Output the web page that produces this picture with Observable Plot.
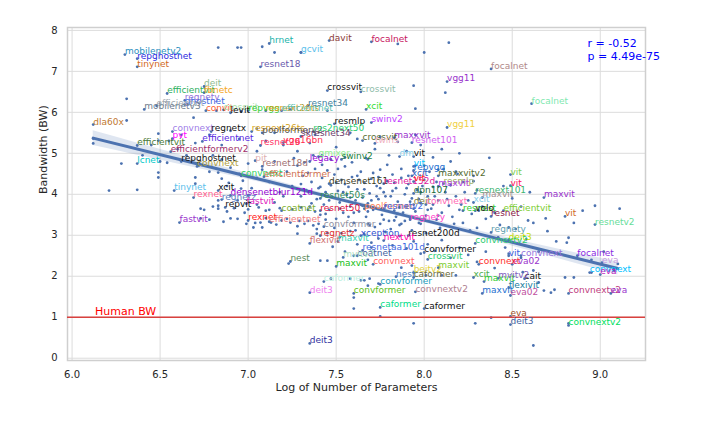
<!DOCTYPE html>
<html>
<head>
<meta charset="utf-8">
<script src="https://cdn.jsdelivr.net/npm/d3@7"></script>
<script src="https://cdn.jsdelivr.net/npm/@observablehq/plot@0.6"></script>
<style>
  html, body { margin: 0; padding: 0; background: #fff; }
  #chart { width: 701px; height: 421px; }
</style>
</head>
<body>
<div id="chart"></div>
<script>
// ---------- tick labels ----------
const xTicks = [6.0, 6.5, 7.0, 7.5, 8.0, 8.5, 9.0];
const yTicks = [0, 1, 2, 3, 4, 5, 6, 7, 8];

// ---------- labelled models (log params, bandwidth) ----------
const labelNames = [
  "mobilenetv2","repghostnet","tinynet","hrnet","gcvit","davit","resnet18","focalnet","focalnet","vgg11",
  "crossvit","crossvit","deit","efficientvit","fbnetc","regnety","ghostnet","efficientvit","mobilenetv3","convit",
  "crossvit","levit","repvgg","resnext26ts","efficientnet","resnet34","xcit","focalnet","dla60x","resmlp",
  "swinv2","vgg11","convnext","regnetx","resnext26ts","poolformerv2","res2next50","skresnet34","maxxvit","crossvit",
  "twins","resnet101","pvt","efficientvit","efficientnet","resnet26","vgg16bn","efficientformerv2","lcnet","repghostnet",
  "convnext","pit","resnet18d","legacy","gmixer","swinv2","dm","vit","convnext","efficientformer",
  "tinynet","xcit","densenetblur121d","densenet161","resnet50s","vit","repvgg","xcit","maxxvitv2","resmlp",
  "maxvit","resnet152d","vit","vit","vit","dpn107","resnext101","maxvit","maxvit","deit",
  "convnext","xcit","resnest","volo","efficientvit","resnet","vit","resnetv2","regnety","regnety",
  "deit3","convnextv2","vit","convnext","focalnet","eva","convnext","eva","eva02","convnext",
  "crossvit","convformer","resnetaa101d","coatnet","convnext","maxvit","xcit","maxvit","cait","flexivit",
  "maxvit","eva02","convnextv2","eva","convnextv2","caformer","caformer","convformer","caformer","beitv2",
  "nest","convformer","eva","deit3","convnextv2","rexnet","regnetz","fastvit","repvit","coatnet",
  "resnet50","fastvit","rexnet","efficientnet","convformer","flexivit","maxvit","regnetz","xception","resnet200d",
  "nextvit","nest","maxvit","mvitv2","caformer","deit3","deit3","poolformer","resnetv2","mvitv2"
];
const labelX = [
  6.30,6.37,6.37,7.12,7.30,7.46,7.07,7.70,8.38,8.13,
  7.45,7.64,6.75,6.54,6.75,6.64,6.64,6.48,6.41,6.76,
  6.86,6.90,7.00,7.10,7.19,7.34,7.67,8.61,6.12,7.49,
  7.70,8.13,6.57,6.79,7.02,7.08,7.37,7.30,7.83,7.65,
  7.72,7.93,6.57,6.37,6.74,7.07,7.20,6.56,6.37,6.62,
  6.71,7.04,7.08,7.35,7.40,7.53,7.86,7.94,6.96,7.09,
  6.58,6.83,6.90,7.46,7.41,7.94,7.94,7.93,8.08,8.11,
  8.08,7.77,7.94,8.49,8.49,7.94,8.29,8.33,8.68,7.94,
  8.01,8.28,8.22,8.29,8.45,8.38,8.80,8.97,7.92,8.38,
  8.48,8.29,8.48,8.55,8.87,9.01,8.94,9.00,8.50,8.31,
  8.02,8.00,7.65,7.62,7.71,8.08,8.28,8.34,8.57,8.48,
  8.33,8.49,8.82,9.06,7.95,7.75,8.00,7.75,7.94,7.94,
  7.84,7.60,8.49,8.49,8.82,6.69,6.85,6.99,6.87,7.19,
  7.41,6.61,7.00,7.12,7.43,7.35,7.51,7.41,7.64,7.91,
  7.77,7.24,7.50,7.54,7.43,7.35,7.35,7.66,7.77,8.42
];
const labelY = [
  7.41,7.31,7.11,7.68,7.46,7.75,7.11,7.72,7.06,6.75,
  6.53,6.50,6.63,6.46,6.48,6.29,6.19,6.16,6.07,6.04,
  6.06,5.99,6.04,6.04,6.04,6.16,6.07,6.21,5.70,5.72,
  5.75,5.63,5.53,5.53,5.53,5.50,5.53,5.41,5.38,5.31,
  5.24,5.26,5.36,5.19,5.29,5.19,5.26,5.04,4.75,4.80,
  4.68,4.82,4.68,4.80,4.92,4.85,4.92,4.92,4.45,4.43,
  4.09,4.09,3.97,4.26,3.90,4.68,4.58,4.45,4.45,4.26,
  4.19,4.26,4.31,4.48,4.21,4.02,4.02,3.92,3.92,3.75,
  3.75,3.80,3.60,3.60,3.60,3.46,3.46,3.26,3.38,3.07,
  2.89,2.80,2.50,2.50,2.50,2.33,2.09,2.04,2.29,2.29,
  2.41,2.58,2.63,2.50,2.29,2.21,1.97,1.87,1.94,1.72,
  1.58,1.53,1.58,1.58,1.62,1.24,1.21,1.80,1.97,2.09,
  1.99,1.58,1.02,0.82,0.80,3.92,3.87,3.77,3.68,3.60,
  3.60,3.31,3.36,3.33,3.21,2.80,2.85,2.99,2.99,2.99,
  2.87,2.36,2.24,2.46,1.87,1.60,0.36,3.65,3.65,1.95
];
const labelColors = [
  "#2a8fc0","#2a2ae0","#d2691e","#20b2aa","#5bc0eb","#8b3a3a","#6a5aad","#c71560","#b08888","#9932cc",
  "#111111","#8fbcaa","#8fbc8f","#2eb060","#f5a623","#9370db","#4169e1","#a0a8b0","#708090","#ff6030",
  "#a8e0a8","#111111","#32cd32","#e0a020","#60c0b0","#3f7fa0","#32dd32","#7fe8b0","#c07830","#111111",
  "#c040ff","#f0d040","#a080e8","#111111","#d4a017","#555555","#2ecc71","#6a3a6a","#9932cc","#556b2f",
  "#f0b0c0","#d060f0","#ff00ff","#4a7a3a","#5a2be2","#ff3366","#ff3050","#a0306a","#00c8c8","#111111",
  "#b0a040","#e0b0b0","#a07070","#9400d3","#90ee90","#208040","#87ceeb","#111111","#30d060","#d07050",
  "#5bc0eb","#111111","#9400d3","#3a3a1a","#2e8b57","#00bfff","#1e6fd0","#3060c0","#556b2f","#a0b060",
  "#b040e0","#e020a0","#ff2020","#7ccd50","#ff1060","#1a6b3a","#3cb371","#a09090","#9932cc","#808040",
  "#ff69b4","#87ceeb","#32cd32","#111111","#7ccd32","#8b1a4a","#d2691e","#66dd99","#ff44cc","#5fa0b0",
  "#c8e000","#2ecc71","#4060e0","#9370db","#8a2be2","#c8a0e0","#00bfff","#c020c0","#9932cc","#ff3030",
  "#2ecc71","#111111","#4169e1","#4060a0","#ff6060","#7ccd32","#4caf50","#32cd32","#111111","#2080a0",
  "#1e6fd0","#c050a0","#c04080","#9932cc","#b08090","#00dd88","#111111","#20a0c0","#6b6b3a","#e0d040",
  "#5080c0","#60c020","#a0522d","#4060a0","#00e060","#ff6090","#6080c0","#e020c0","#111111","#80b030",
  "#e01040","#9932cc","#ff2020","#f08080","#9090a0","#d07070","#40d0b0","#e03030","#3050d0","#111111",
  "#ff00aa","#5a8a5a","#20c020","#b0e0c0","#c0f0e0","#ee82ee","#3030a0","#ff7f50","#4169e1","#8060c0"
];

// ---------- unlabelled models ----------
const dotX = [
  6.83,6.94,6.96,7.08,7.15,7.30,7.85,8.00,8.14,6.31,7.94,8.12,7.95,6.69,6.31,6.82,6.96,7.24,7.45,6.12,
  6.12,6.49,6.49,6.28,6.37,6.21,6.49,6.49,6.54,6.70,6.70,6.83,6.85,6.89,6.97,6.96,7.00,6.83,6.94,6.73,
  6.73,6.90,6.99,7.07,6.83,6.83,7.03,7.08,7.13,7.19,7.24,7.32,7.37,7.39,7.28,7.41,7.45,7.23,7.60,7.60,
  7.69,7.64,7.47,7.58,7.68,7.75,7.83,7.87,7.98,7.70,7.87,7.93,8.01,8.10,8.18,7.68,7.66,7.74,7.94,8.29,
  7.75,8.38,8.62,8.68,8.74,8.85,8.80,8.95,9.08,9.11,8.97,8.82,8.81,8.59,8.69,8.48,8.48,8.55,8.62,8.82,
  8.37,
  7.22,7.25,7.28,7.30,7.31,7.33,7.35,7.36,7.38,7.39,7.40,7.41,7.42,7.43,7.44,7.45,7.46,7.47,7.48,7.49,
  7.50,7.51,7.52,7.53,7.54,7.55,7.56,7.57,7.58,7.59,7.60,7.61,7.62,7.63,7.64,7.65,7.66,7.67,7.68,7.69,
  7.70,7.71,7.72,7.73,7.74,7.75,7.76,7.77,7.78,7.79,7.80,7.81,7.82,7.83,7.84,7.85,7.86,7.87,7.88,7.89,
  7.90,7.91,7.92,7.93,7.95,7.96,7.97,7.98,8.00,8.01,8.02,8.04,8.05,8.07,8.08,8.10,8.12,8.14,8.16,8.18,
  8.20,8.22,8.25,8.27,8.30,8.33,8.35,8.40,8.43,
  7.45,7.52,7.58,7.62,7.66,7.70,7.74,7.78,7.82,7.86,7.90,7.94,7.98,8.02,8.06,8.10,8.15,8.20,8.25,8.30,
  8.35,7.55,7.48,7.60,7.68,
  7.20,7.28,7.35,7.42,7.50,7.55,7.62,7.68,7.72,7.80,7.85,7.90,7.98,8.05,8.10,8.15,8.20,7.38,7.58,7.75,
  7.95,8.00,8.08,8.18,8.22,8.28,8.30,
  6.72,6.78,6.85,6.90,6.95,7.00,7.05,7.08,7.12,7.15,7.18,7.02,6.88,6.80,6.65,6.60,6.70,6.85,6.95,7.05,
  7.10,7.15,7.05,6.90,6.78,6.62,6.55,6.45,6.40,6.50,7.15,7.10,7.20,7.05,6.98,
  8.45,8.50,8.55,8.60,8.62,8.70,8.75,8.65,8.58,8.52,8.90,8.85,8.95,9.02,9.10,8.42,8.46,8.40,8.56,8.65,
  8.72,
  7.26,7.29,7.32,7.34,7.37,7.39,7.42,7.44,7.47,7.49,7.51,7.53,7.55,7.57,7.59,7.61,7.63,7.65,7.67,7.69,
  7.71,7.73,7.75,7.77,7.79,7.81,7.83,7.85,7.87,7.89,7.91,7.93,7.95,7.97,7.99,8.01,8.03,8.05,8.07,8.09,
  8.11,8.13,8.15,8.17,8.19,8.21,8.23,8.26,8.28,8.31,
  7.30,7.34,7.38,7.41,7.46,7.50,7.54,7.58,7.62,7.66,7.70,7.74,7.78,7.82,7.86,7.90,7.94,7.98,8.02,8.06,
  7.36,7.44,7.52,7.60,7.68,7.76,7.84,7.92,8.00,8.08,
  6.75,6.80,6.88,6.92,7.00,7.06,7.12,7.18,7.25,7.30,6.78,6.86,6.94,7.04,7.10,7.16,7.22,7.28,7.34,7.40
];
const dotY = [
  7.58,7.58,7.58,7.60,7.46,7.46,7.67,7.46,7.70,6.33,6.65,6.48,6.09,5.87,5.80,6.04,6.02,6.07,6.04,5.36,
  5.24,5.48,5.31,4.75,4.11,4.09,4.53,4.41,4.77,4.41,4.26,4.53,4.38,4.28,4.33,4.14,3.97,3.65,3.85,3.65,
  3.41,3.41,3.28,3.31,3.85,3.72,3.19,3.19,3.31,3.36,3.31,3.28,3.24,3.04,3.04,2.38,2.38,2.31,1.21,1.48,
  1.94,1.90,1.94,1.94,3.28,3.28,3.36,3.28,3.28,2.82,2.21,2.26,2.02,2.02,2.02,1.77,1.90,1.82,0.85,0.85,
  1.02,0.99,0.31,1.65,1.67,1.97,1.97,2.09,2.14,3.65,3.72,2.94,2.82,3.36,3.41,3.19,2.55,2.45,2.14,0.85,
  4.89,
  4.55,4.20,4.70,3.95,4.45,4.10,3.70,4.30,4.62,3.88,4.15,3.50,4.40,3.75,4.05,4.58,3.62,4.22,3.92,4.48,
  3.40,4.08,3.80,4.35,3.55,4.68,3.98,4.18,3.70,4.42,3.30,3.85,4.12,3.58,4.55,3.92,4.28,3.45,3.78,4.02,
  4.38,3.62,3.20,4.20,3.88,4.60,3.50,4.05,3.72,4.32,3.35,3.95,4.48,3.60,4.15,3.82,3.25,4.40,3.55,4.00,
  3.70,4.25,3.42,3.90,3.58,4.10,3.30,3.78,4.35,3.48,3.95,3.65,4.18,3.38,3.85,3.55,4.05,3.72,3.45,3.95,
  3.62,3.30,3.85,3.52,3.18,3.70,3.40,3.55,3.25,
  3.05,2.95,3.10,2.78,3.02,2.70,2.92,3.08,2.75,2.98,2.68,2.85,2.55,2.78,2.62,2.88,2.45,2.70,2.52,2.35,
  2.60,2.60,2.72,2.50,2.40,
  5.20,5.05,5.25,4.95,5.15,4.90,5.35,4.85,5.10,4.95,5.28,5.05,5.20,4.90,5.10,4.80,5.00,5.45,5.50,5.40,
  5.45,4.70,4.60,4.55,4.30,4.45,4.10,
  4.70,4.55,4.85,4.65,4.50,4.75,4.40,4.60,4.30,4.80,4.05,4.15,4.20,4.95,4.95,5.10,5.25,5.20,5.35,5.05,
  5.30,5.50,5.60,5.55,5.45,5.45,5.30,5.20,4.95,4.80,3.80,3.60,3.95,3.75,3.55,
  4.20,3.90,3.70,4.05,3.30,3.10,2.85,2.60,2.90,3.15,3.60,3.30,2.40,2.60,2.30,2.95,2.70,2.20,2.10,1.85,
  1.60,
  4.88,3.35,4.78,3.62,4.95,3.15,4.72,3.38,4.85,3.18,4.62,3.05,4.25,3.45,4.78,3.12,4.35,3.72,4.88,3.25,
  4.52,3.95,4.15,3.38,4.72,3.15,4.28,3.52,4.62,3.35,4.45,3.12,4.70,3.88,4.20,3.05,4.55,3.75,4.30,3.18,
  4.62,3.88,4.22,3.28,4.50,3.75,4.05,3.12,4.32,3.60,
  4.25,4.52,3.58,4.18,3.85,4.28,4.05,3.92,4.45,4.12,3.85,4.42,3.95,4.08,3.68,4.15,3.65,4.05,3.62,3.95,
  3.78,3.52,3.65,3.55,3.58,3.65,3.45,3.82,3.40,3.48,
  3.62,3.70,3.58,3.66,3.63,3.68,3.62,3.66,3.63,3.68,3.38,3.33,3.40,3.30,3.42,3.26,3.40,3.22,3.35,3.28
];

// ---------- regression fit ----------
const fitX  = [6.12, 6.60, 7.10, 7.60, 8.10, 8.60, 9.10];
const fitY  = [5.37, 4.86, 4.33, 3.79, 3.26, 2.72, 2.19];
const fitLo = [5.19, 4.74, 4.26, 3.74, 3.20, 2.62, 2.03];
const fitHi = [5.55, 4.98, 4.40, 3.84, 3.32, 2.82, 2.35];

const humanBW = 1.0;
const humanLabelX = 6.13;
const statR = "r = -0.52";
const statP = "p = 4.49e-75";

// ---------- build tables ----------
const labels = labelNames.map((n, i) => ({name: n, x: labelX[i], y: labelY[i], c: labelColors[i]}));
const dots = dotX.map((x, i) => ({x, y: dotY[i]})).concat(labels.map(d => ({x: d.x, y: d.y})));
const fit = fitX.map((x, i) => ({x, y: fitY[i], lo: fitLo[i], hi: fitHi[i]}));

const blue = "#4c72b0";

const chart = Plot.plot({
  width: 701,
  height: 421,
  marginLeft: 67,
  marginRight: 56,
  marginTop: 27,
  marginBottom: 61,
  style: {fontFamily: "DejaVu Sans", fontSize: "10px", color: "#262626", background: "#fff"},
  x: {domain: [5.974, 9.257]},
  y: {domain: [-0.056, 8.07]},
  marks: [
    Plot.gridX(xTicks, {stroke: "#dcdcdc", strokeOpacity: 1, strokeWidth: 1}),
    Plot.gridY(yTicks, {stroke: "#dcdcdc", strokeOpacity: 1, strokeWidth: 1}),
    Plot.frame({stroke: "#cfcfcf", strokeWidth: 1.5}),
    Plot.axisX({ticks: xTicks, tickFormat: d3.format(".1f"), tickSize: 0, tickPadding: 10, label: null, fontSize: 10}),
    Plot.axisY({ticks: yTicks, tickFormat: d3.format("d"), tickSize: 0, tickPadding: 10, label: null, fontSize: 10}),
    Plot.areaY(fit, {x: "x", y1: "lo", y2: "hi", fill: blue, fillOpacity: 0.18, curve: "natural"}),
    Plot.dot(dots, {x: "x", y: "y", r: 1.4, fill: blue, stroke: "none"}),
    Plot.line(fit, {x: "x", y: "y", stroke: blue, strokeWidth: 3}),
    Plot.ruleY([humanBW], {stroke: "#d9413e", strokeWidth: 1.5}),
    Plot.text([humanBW], {x: () => humanLabelX, y: d => d, text: () => "Human BW", fill: "red",
      fontSize: 11, textAnchor: "start", lineAnchor: "bottom", dy: -2}),
    Plot.text(labels, {x: "x", y: "y", text: "name", fill: "c", fontSize: 9,
      textAnchor: "start", lineAnchor: "middle", dy: -3}),
    Plot.text([statR], {frameAnchor: "top-left", text: d => d, dx: 520, dy: 16,
      fill: "#0000ff", fontSize: 11, textAnchor: "start", lineAnchor: "middle"}),
    Plot.text([statP], {frameAnchor: "top-left", text: d => d, dx: 520, dy: 29,
      fill: "#0000ff", fontSize: 11, textAnchor: "start", lineAnchor: "middle"}),
    Plot.text(["Log of Number of Parameters"], {frameAnchor: "bottom", text: d => d, dy: 27, fontSize: 11, fill: "#262626", lineAnchor: "middle"}),
    Plot.text(["Bandwidth (BW)"], {frameAnchor: "left", text: d => d, dx: -24, rotate: -90, fontSize: 11, fill: "#262626", lineAnchor: "middle"})
  ]
});

document.getElementById("chart").appendChild(chart);
</script>
</body>
</html>
